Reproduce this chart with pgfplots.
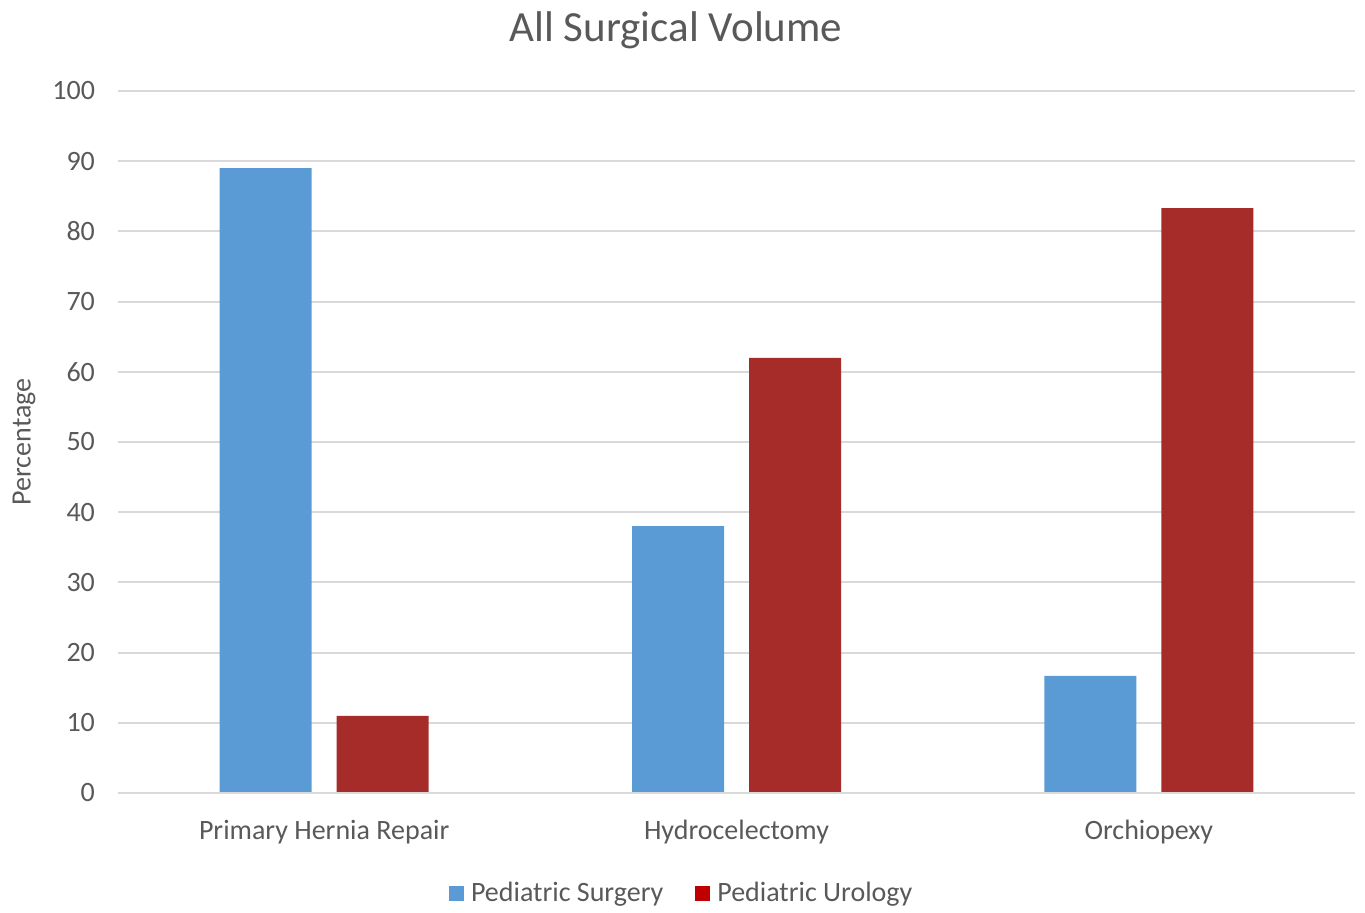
\documentclass[border=0pt]{standalone}
\usepackage{pgfplots}
\pgfplotsset{compat=1.18}
\usepackage{fontspec}
\setmainfont{Carlito}
\definecolor{txt}{HTML}{595959}
\definecolor{grd}{HTML}{D9D9D9}
\definecolor{sblue}{HTML}{5B9BD5}
\definecolor{sred}{HTML}{A52C29}
\definecolor{lred}{HTML}{C00000}
\begin{document}
\begin{tikzpicture}
\path[use as bounding box] (0,0) rectangle (682.5pt,456pt);
\begin{axis}[
  at={(59pt,59.5pt)}, anchor=south west,
  scale only axis, width=618.5pt, height=351pt,
  xmin=-0.5, xmax=2.5, ymin=0, ymax=100,
  ytick={0,10,...,100},
  xtick={0,1,2},
  xticklabels={Primary Hernia Repair, Hydrocelectomy, Orchiopexy},
  axis line style={draw=none},
  axis x line*=bottom,
  major tick length=0pt,
  ymajorgrids, grid style={grd, line width=1pt},
  ticklabel style={font=\fontsize{14}{16}\selectfont, text=txt},
  /pgf/number format/assume math mode=true,
  yticklabel style={xshift=-8pt},
  xticklabel style={yshift=-10pt},
  ylabel={Percentage},
  ylabel style={font=\fontsize{14}{16}\selectfont, text=txt, at={(-47pt,0.5)}, anchor=center},
  ybar, bar width=46pt,
  legend columns=2,
  legend style={at={(0.4565,-0.143)}, anchor=center, draw=none, fill=none,
    font=\fontsize{14}{16}\selectfont, text=txt,
    /tikz/every odd column/.append style={column sep=1.5pt},
    /tikz/every even column/.append style={column sep=14pt}},
  legend image code/.code={\fill[#1] (0pt,-3.75pt) rectangle (7.5pt,3.75pt);},
]
\addplot[fill=sblue, draw=none, bar shift=-29.25pt, forget plot] coordinates {(0,89) (1,38) (2,16.7)};
\addplot[fill=sred, draw=none, bar shift=29.25pt, forget plot] coordinates {(0,11) (1,62) (2,83.3)};
\draw[grd, line width=1pt] (axis cs:-0.5,0) -- (axis cs:2.5,0);
\addlegendimage{fill=sblue, draw=none}
\addlegendentry{Pediatric Surgery}
\addlegendimage{fill=lred, draw=none}
\addlegendentry{Pediatric Urology}
\end{axis}
\node[text=txt, font=\fontsize{21.5}{24}\selectfont] at (338pt,441pt) {All Surgical Volume};
\end{tikzpicture}
\end{document}
